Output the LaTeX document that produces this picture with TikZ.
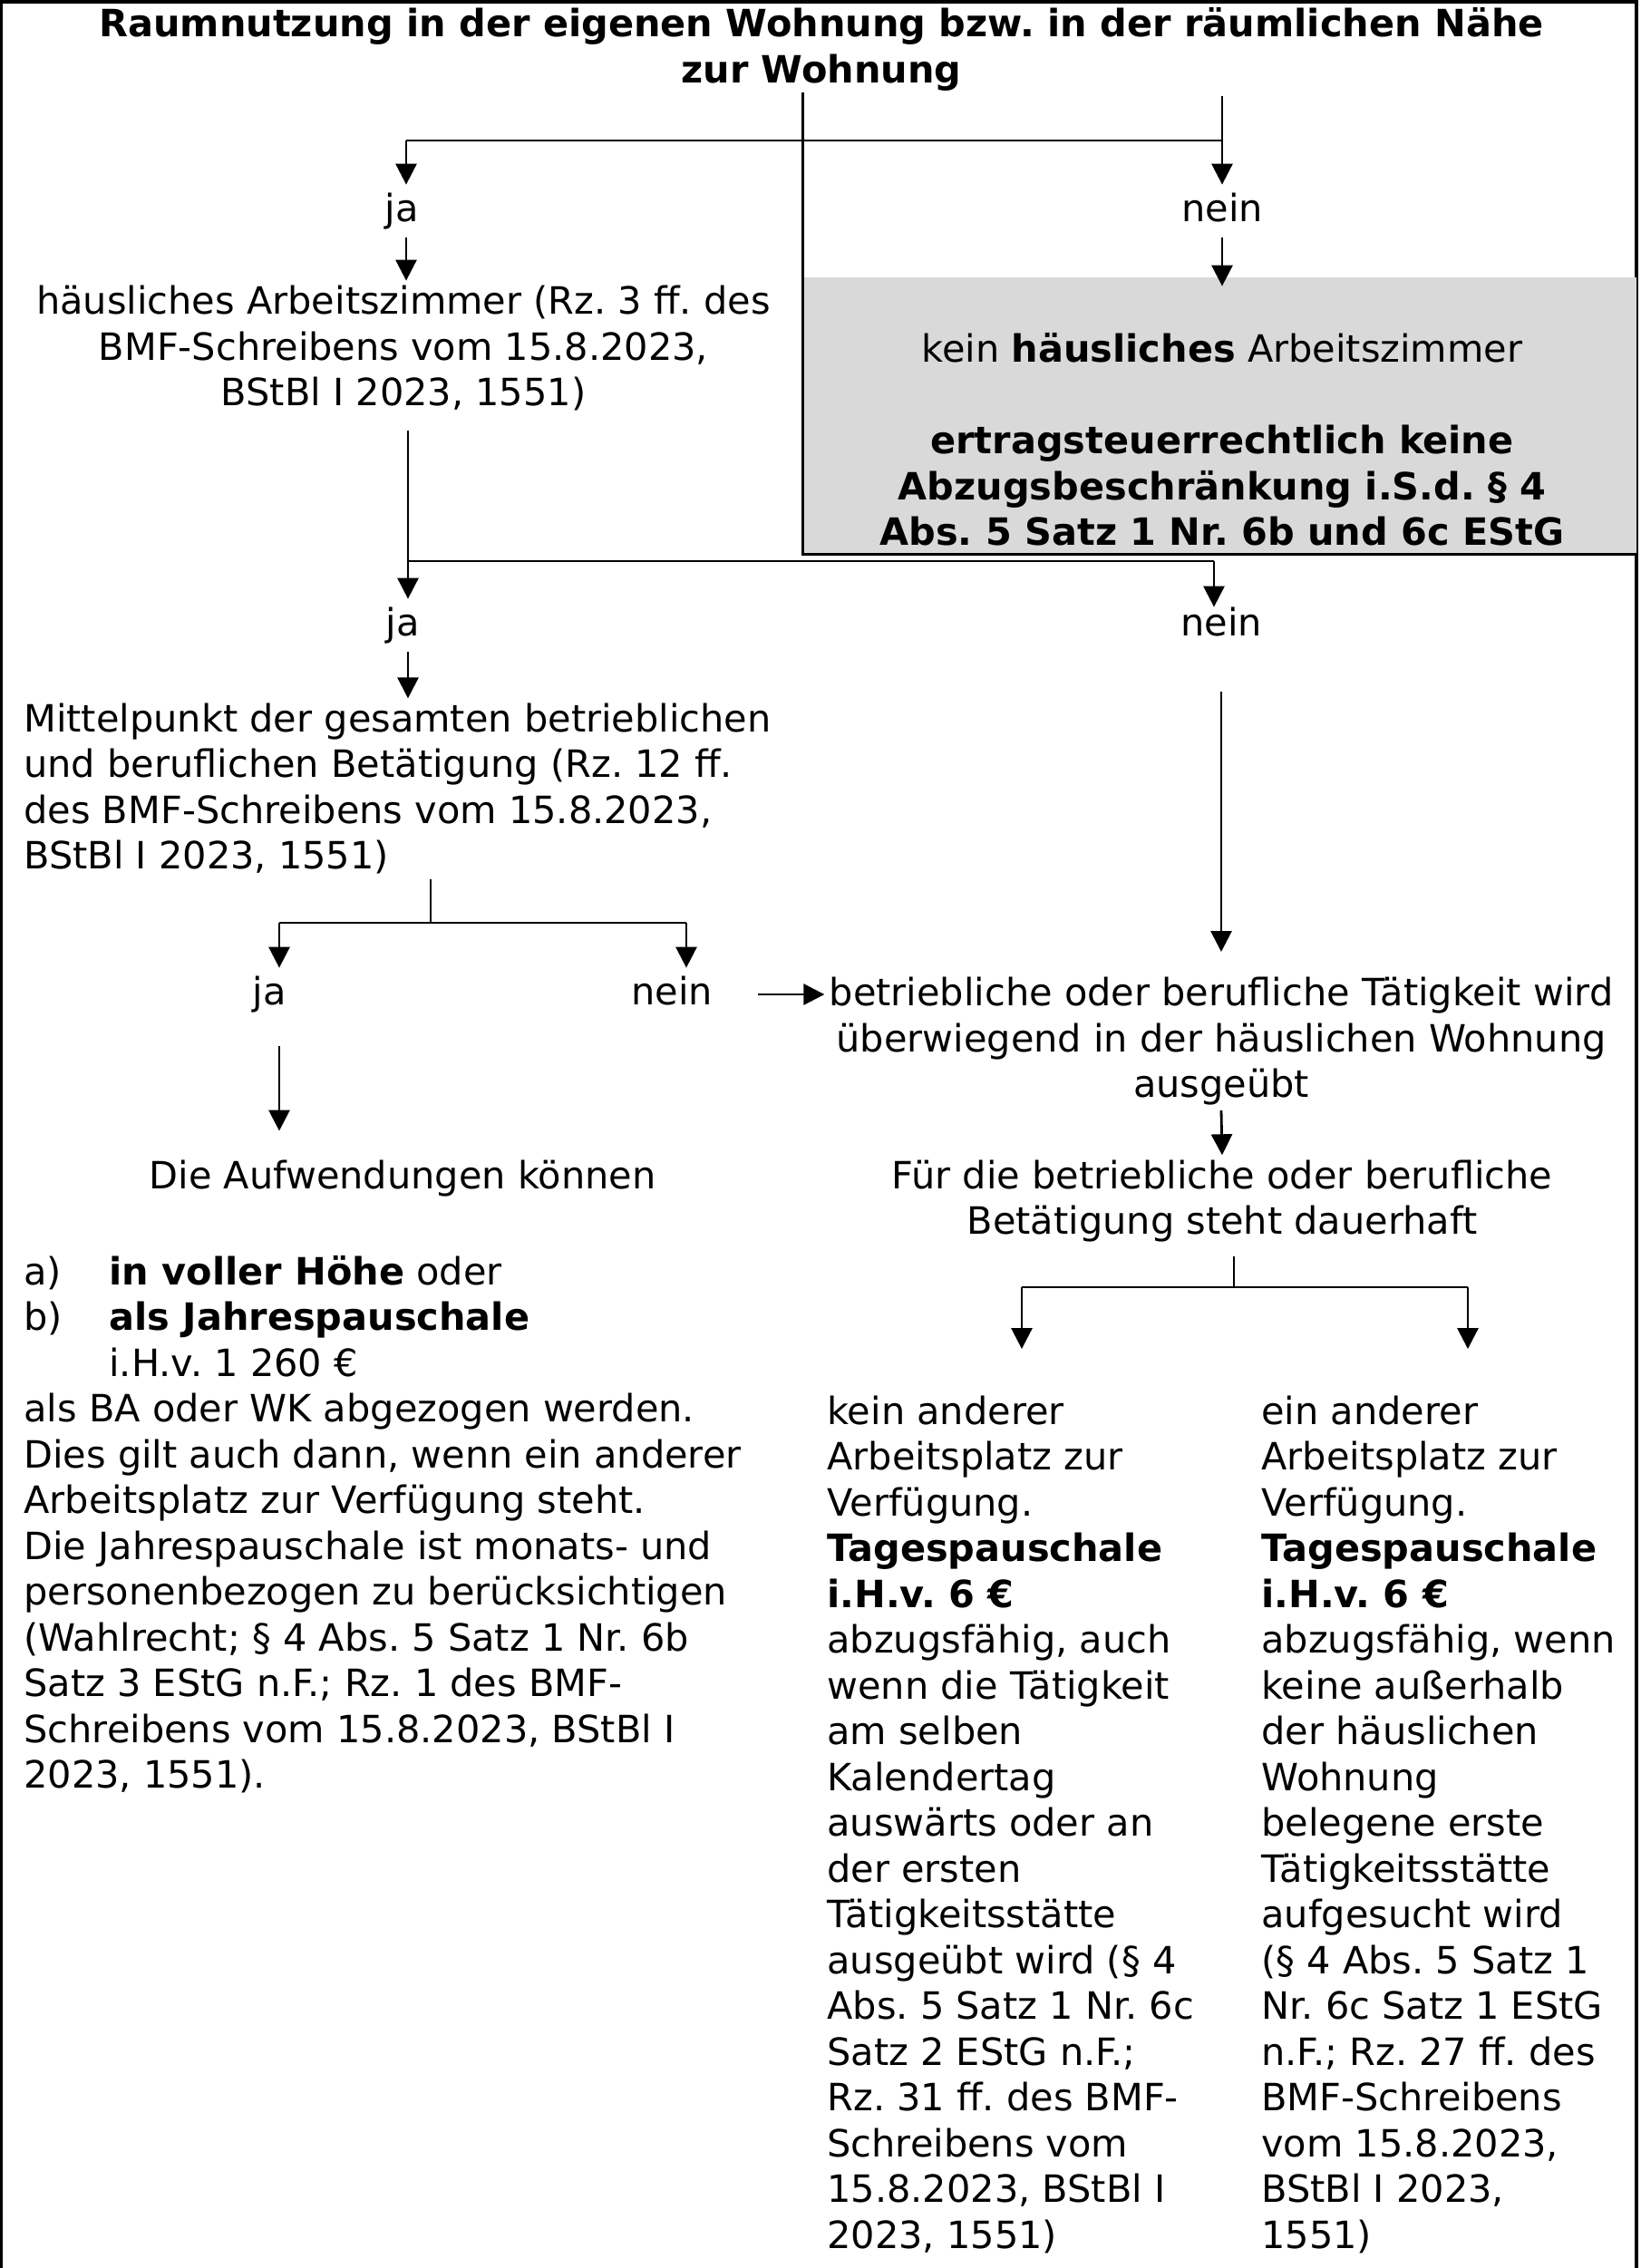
\documentclass[tikz,border=0pt]{standalone}
\usepackage{fontspec}
\setmainfont{DejaVu Sans}
\usetikzlibrary{arrows.meta}
\definecolor{boxGray}{HTML}{D9D9D9}
\frenchspacing

\begin{document}
\begin{tikzpicture}[> = {Triangle[length=2.3mm, width=2.3mm]}, line width=0.8pt,
    font=\fontsize{11.8}{14.37}\selectfont,
    txt/.style={inner sep=0.4mm},
    lbl/.style={inner xsep=0.4mm, inner ysep=0.9mm, text height=3mm, text depth=0.8mm}]

    \useasboundingbox (0, 0) rectangle (18.09, -25.02) ;

    % frame %
    \draw [line width=0.9pt] (0.015, -25.02) -- (0.015, -0.02) -- (18.05, -0.02) -- (18.05, -25.02) ;

    % title
    \node [txt, align=center, font=\fontsize{11.8}{14.37}\selectfont\bfseries]
          at (9.06, -0.545) (title)
          {Raumnutzung in der eigenen Wohnung bzw. in der räumlichen Nähe\\
           zur Wohnung} ;

    % first decision %
    \node [lbl] at (4.43, -2.33) (ja1) {ja} ;
    \node [lbl] at (13.48, -2.33) (nein1) {nein} ;

    \node [txt, align=center] at (4.45, -3.84) (arbz)
          {häusliches Arbeitszimmer (Rz. 3 ff. des\\
           BMF-Schreibens vom 15.8.2023,\\
           BStBl I 2023, 1551)} ;

    % grey box (kein Arbeitszimmer)
    \node [fill=boxGray, minimum width=9.18cm, minimum height=3.04cm, inner sep=0]
          at (13.46, -4.58) (kein) {} ;
    \draw ([yshift=2.03cm]kein.north west) -- (kein.south west) -- (kein.south east) ;
    \node [txt, align=center] at (13.48, -4.85) (keintxt)
          {kein \textbf{häusliches} Arbeitszimmer\\[14.37pt]
           \textbf{ertragsteuerrechtlich keine}\\
           \textbf{Abzugsbeschränkung i.S.d. § 4}\\
           \textbf{Abs. 5 Satz 1 Nr. 6b und 6c EStG}} ;

    % second decision %
    \node [lbl] at (4.44, -6.90) (ja2) {ja} ;
    \node [lbl] at (13.47, -6.90) (nein2) {nein} ;

    \node [txt, align=left, anchor=west] at (0.21, -8.70) (mittel)
          {Mittelpunkt der gesamten betrieblichen\\
           und beruflichen Betätigung (Rz. 12 ff.\\
           des BMF-Schreibens vom 15.8.2023,\\
           BStBl I 2023, 1551)} ;

    % third decision %
    \node [lbl] at (2.97, -10.97) (ja3) {ja} ;
    \node [lbl] at (7.41, -10.97) (nein3) {nein} ;

    \node [txt, align=center] at (13.47, -11.49) (betr)
          {betriebliche oder berufliche Tätigkeit wird\\
           überwiegend in der häuslichen Wohnung\\
           ausgeübt} ;

    \node [txt] at (4.44, -13.00) (aufw) {Die Aufwendungen können} ;

    \node [txt, align=center] at (13.48, -13.25) (fuer)
          {Für die betriebliche oder berufliche\\
           Betätigung steht dauerhaft} ;

    % left column (Mittelpunkt)
    \node [txt, align=left, anchor=west] at (0.21, -16.815) (leftcol)
          {\makebox[0.94cm][l]{a)}\textbf{in voller Höhe} oder\\
           \makebox[0.94cm][l]{b)}\textbf{als Jahrespauschale}\\
           \makebox[0.94cm][l]{}i.H.v. 1 260 €\\
           als BA oder WK abgezogen werden.\\
           Dies gilt auch dann, wenn ein anderer\\
           Arbeitsplatz zur Verfügung steht.\\
           Die Jahrespauschale ist monats- und\\
           personenbezogen zu berücksichtigen\\
           (Wahlrecht; § 4 Abs. 5 Satz 1 Nr. 6b\\
           Satz 3 EStG n.F.; Rz. 1 des BMF-\\
           Schreibens vom 15.8.2023, BStBl I\\
           2023, 1551).} ;

    % middle column (kein anderer Arbeitsplatz)
    \node [txt, align=left, anchor=west] at (9.07, -20.125) (midcol)
          {kein anderer\\
           Arbeitsplatz zur\\
           Verfügung.\\
           \textbf{Tagespauschale}\\
           \textbf{i.H.v. 6 €}\\
           abzugsfähig, auch\\
           wenn die Tätigkeit\\
           am selben\\
           Kalendertag\\
           auswärts oder an\\
           der ersten\\
           Tätigkeitsstätte\\
           ausgeübt wird (§ 4\\
           Abs. 5 Satz 1 Nr. 6c\\
           Satz 2 EStG n.F.;\\
           Rz. 31 ff. des BMF-\\
           Schreibens vom\\
           15.8.2023, BStBl I\\
           2023, 1551)} ;

    % right column (ein anderer Arbeitsplatz)
    \node [txt, align=left, anchor=west] at (13.86, -20.125) (rightcol)
          {ein anderer\\
           Arbeitsplatz zur\\
           Verfügung.\\
           \textbf{Tagespauschale}\\
           \textbf{i.H.v. 6 €}\\
           abzugsfähig, wenn\\
           keine außerhalb\\
           der häuslichen\\
           Wohnung\\
           belegene erste\\
           Tätigkeitsstätte\\
           aufgesucht wird\\
           (§ 4 Abs. 5 Satz 1\\
           Nr. 6c Satz 1 EStG\\
           n.F.; Rz. 27 ff. des\\
           BMF-Schreibens\\
           vom 15.8.2023,\\
           BStBl I 2023,\\
           1551)} ;


    % connectors %

    % branch points
    \coordinate (s1) at (4.48, -1.55) ;
    \coordinate (r1) at (13.48, -1.55) ;
    \coordinate (s2) at (4.50, -6.19) ;
    \coordinate (r2) at (13.39, -6.19) ;
    \coordinate (m3) at (4.75, -10.18) ;
    \coordinate (s3) at (3.08, -10.18) ;
    \coordinate (r3) at (7.57, -10.18) ;
    \coordinate (m4) at (13.61, -14.20) ;
    \coordinate (s4) at (11.27, -14.20) ;
    \coordinate (r4) at (16.19, -14.20) ;

    % title -> ja / nein
    \draw (title.south -| r1) -- (r1) -- (s1) ;
    \draw [->] (s1) -- (s1 |- ja1.north) ;
    \draw [->] (r1) -- (r1 |- nein1.north) ;
    \draw [->] (ja1.south -| s1) -- (s1 |- arbz.north) ;
    \draw [->] (nein1.south -| r1) -- ([yshift=-1.1mm]kein.north -| r1) ;

    % Arbeitszimmer -> ja / nein
    \draw ([yshift=-1.7mm]arbz.south -| s2) -- (s2) -- (r2) ;
    \draw [->] (s2) -- (s2 |- ja2.north) ;
    \draw [->] (r2) -- ([yshift=-0.9mm]r2 |- nein2.north) ;
    \draw [->] (ja2.south -| s2) -- (s2 |- mittel.north) ;
    \draw [->] ([yshift=-4.4mm]nein2.south) -- ([yshift=2.3mm]nein2.south |- betr.north) ;

    % Mittelpunkt -> ja / nein
    \draw (mittel.south -| m3) -- (m3) ;
    \draw (s3) -- (r3) ;
    \draw [->] (s3) -- (s3 |- ja3.north) ;
    \draw [->] (r3) -- (r3 |- nein3.north) ;
    \draw [->] ([xshift=4.5mm]nein3.east) -- (nein3.east -| betr.west) ;
    \draw [->] ([yshift=-2.8mm]ja3.south -| s3) -- ([yshift=2.7mm]s3 |- aufw.north) ;

    % ueberwiegend -> dauerhaft -> two columns
    \draw [->] (betr.south) -- (fuer.north) ;
    \draw ([yshift=-1mm]fuer.south -| m4) -- (m4) ;
    \draw (s4) -- (r4) ;
    \draw [->] (s4) -- ([yshift=4.6mm]s4 |- midcol.north) ;
    \draw [->] (r4) -- ([yshift=4.6mm]r4 |- rightcol.north) ;

\end{tikzpicture}
\end{document}
